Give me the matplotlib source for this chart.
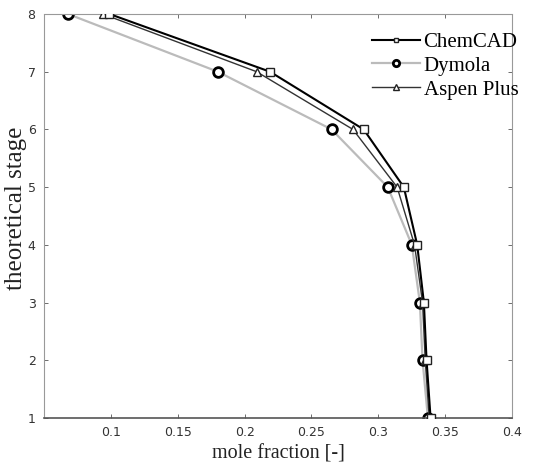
import matplotlib
matplotlib.use("Agg")
import matplotlib.pyplot as plt

stages = [8, 7, 6, 5, 4, 3, 2, 1]
chemcad = [0.099, 0.219, 0.289, 0.319, 0.329, 0.334, 0.336, 0.339]
dymola = [0.068, 0.180, 0.265, 0.307, 0.325, 0.331, 0.333, 0.337]
aspen = [0.094, 0.209, 0.281, 0.314, 0.327, 0.333, 0.335, 0.338]

xticks = [0.1, 0.15, 0.2, 0.25, 0.3, 0.35, 0.4]
xticklabels = ["0.1", "0.15", "0.2", "0.25", "0.3", "0.35", "0.4"]
yticks = [1, 2, 3, 4, 5, 6, 7, 8]

fig = plt.figure(figsize=(5.42, 4.67), dpi=100)
ax = fig.add_axes([0.081, 0.105, 0.864, 0.865])

ax.plot(dymola, stages, color="#bbbbbb", lw=1.6, marker="o", ms=7,
        mfc="white", mec="black", mew=2.0, label="Dymola", zorder=2)
ax.plot(aspen, stages, color="#333333", lw=1.0, marker="^", ms=6,
        mfc="white", mec="#222222", mew=1.0, label="Aspen Plus", zorder=3)
ax.plot(chemcad, stages, color="black", lw=1.5, marker="s", ms=5.5,
        mfc="white", mec="#222222", mew=1.0, label="ChemCAD", zorder=4)

ax.set_xlim(0.05, 0.4)
ax.set_ylim(1, 8)
ax.set_xticks(xticks)
ax.set_xticklabels(xticklabels)
ax.set_yticks(yticks)
ax.tick_params(direction="in", top=True, right=True, length=3, width=0.6,
               colors="#555555", labelcolor="#333333", labelsize=9, pad=6)
for lab in ax.get_xticklabels() + ax.get_yticklabels():
    lab.set_family("DejaVu Sans")

for side in ["left", "right", "top"]:
    ax.spines[side].set_color("#999999")
    ax.spines[side].set_linewidth(0.8)
ax.spines["left"].set_linestyle((0, (3, 1)))
ax.spines["right"].set_linestyle((0, (3, 1)))
ax.spines["bottom"].set_color("#555555")
ax.spines["bottom"].set_linewidth(1.2)

ax.set_xlabel("mole fraction [-]", family="Liberation Serif", fontsize=14.5, color="#222222", labelpad=4)
ax.set_ylabel("theoretical stage", family="Liberation Serif", fontsize=18, color="#222222")
ax.yaxis.set_label_coords(-0.036, 0.52)

handles, labels = ax.get_legend_handles_labels()
order = [2, 0, 1]
ax.legend([handles[i] for i in order], [labels[i] for i in order],
          loc="upper right", bbox_to_anchor=(1.031, 0.975), borderaxespad=0,
          frameon=False, prop={"family": "Liberation Serif", "size": 15},
          handlelength=2.35, handletextpad=0.15, labelspacing=0.2,
          markerscale=0.65)

fig.savefig("out.png", dpi=100)
